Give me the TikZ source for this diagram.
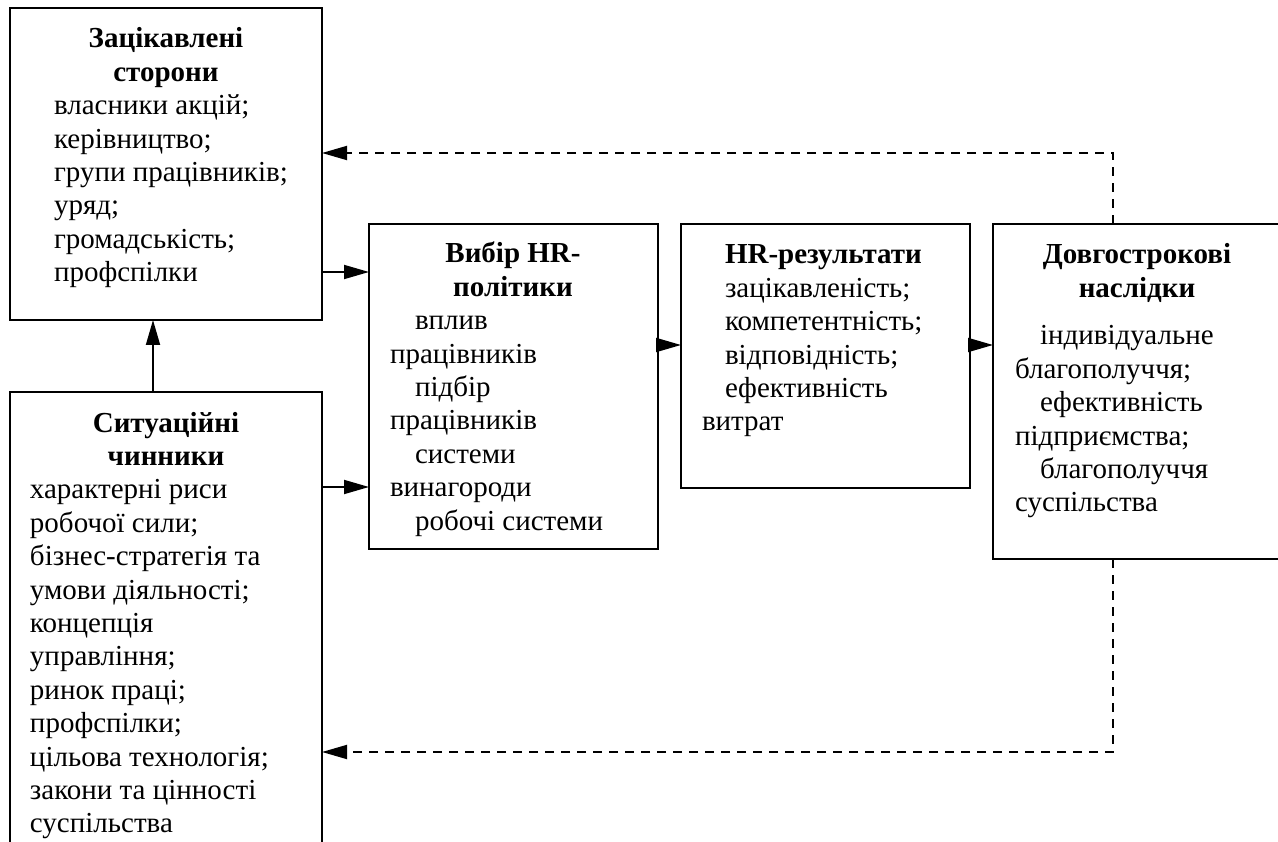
\documentclass[tikz,border=0pt]{standalone}
\usepackage{fontspec}
\setmainfont{Liberation Serif}
\usetikzlibrary{arrows.meta}
\newcommand\blk[1]{\vtop{\baselineskip=33.4pt\lineskiplimit=-100pt\lineskip=0pt #1}}
\newcommand\cl[1]{\hbox to 0pt{\hss#1\hss}}
\newcommand\pl[1]{\hbox{#1}}
\newcommand\il[2][25pt]{\hbox{\hspace*{#1}#2}}
\tikzset{
  box/.style={draw, line width=1.8pt, inner sep=0pt, outer sep=0pt, anchor=north west},
  txt/.style={inner sep=0pt, outer sep=0pt, anchor=base west, font=\fontsize{29}{33.4}\selectfont},
  ttl/.style={inner sep=0pt, outer sep=0pt, anchor=base, font=\fontsize{29}{33.4}\selectfont\bfseries},
  arr/.style={line width=1.8pt, -{Triangle[length=25pt,width=14pt]}},
  darr/.style={arr, dash pattern=on 9pt off 7pt},
}
\begin{document}
\begin{tikzpicture}[x=1pt,y=-1pt]
\clip (0,0) rectangle (1278,842);
\fill[white] (0,0) rectangle (1278,842);
% boxes
\node[box, minimum width=312pt, minimum height=312pt] (A) at (10,8) {};
\node[box, minimum width=312pt, minimum height=520pt] (S) at (10,392) {};
\node[box, minimum width=289pt, minimum height=325pt] (P) at (369,224) {};
\node[box, minimum width=289pt, minimum height=264pt] (R) at (681,224) {};
\node[box, minimum width=340pt, minimum height=335pt] (L) at (993,224) {};
% texts
\node[ttl] (At) at (166,48) {\blk{\cl{Зацікавлені}\cl{сторони}}};
\node[txt] (Ai) at (54,114.8) {\blk{\pl{власники акцій;}\pl{керівництво;}\pl{групи працівників;}\pl{уряд;}\pl{громадськість;}\pl{профспілки}}};
\node[ttl] (St) at (166,432) {\blk{\cl{Ситуаційні}\cl{чинники}}};
\node[txt] (Si) at (30,498.8) {\blk{\pl{характерні риси}\pl{робочої сили;}\pl{бізнес-стратегія та}\pl{умови діяльності;}\pl{концепція}\pl{управління;}\pl{ринок праці;}\pl{профспілки;}\pl{цільова технологія;}\pl{закони та цінності}\pl{суспільства}}};
\node[ttl] (Pt) at (513,263) {\blk{\cl{Вибір HR-}\cl{політики}}};
\node[txt] (Pi) at (390,329.8) {\blk{\il{вплив}\pl{працівників}\il{підбір}\pl{працівників}\il{системи}\pl{винагороди}\il{робочі системи}}};
\node[txt, font=\fontsize{29}{33.4}\selectfont\bfseries] (Rt) at (725,264) {HR-результати};
\node[txt] (Ri) at (702,297.4) {\blk{\il[23pt]{зацікавленість;}\il[23pt]{компетентність;}\il[23pt]{відповідність;}\il[23pt]{ефективність}\pl{витрат}}};
\node[ttl] (Lt) at (1137,264) {\blk{\cl{Довгострокові}\cl{наслідки}}};
\node[txt] (Li) at (1015,345) {\blk{\il{індивідуальне}\pl{благополуччя;}\il{ефективність}\pl{підприємства;}\il{благополуччя}\pl{суспільства}}};
% helper coordinates
\coordinate (y1) at (0,272);
\coordinate (y2) at (0,487);
\coordinate (y3) at (0,345);
\coordinate (y4) at (0,153);
\coordinate (y5) at (0,752);
\coordinate (x1) at (153,0);
\coordinate (x2) at (1113,0);
% connectors
\draw[arr] (A.east |- y1) -- (P.west |- y1);
\draw[arr] (S.east |- y2) -- (P.west |- y2);
\draw[arr] (S.north -| x1) -- (A.south -| x1);
\draw[arr] (P.east |- y3) -- (R.west |- y3);
\draw[arr] (R.east |- y3) -- (L.west |- y3);
\draw[darr] (L.north -| x2) |- (A.east |- y4);
\draw[darr] (L.south -| x2) |- (S.east |- y5);
\end{tikzpicture}
\end{document}
